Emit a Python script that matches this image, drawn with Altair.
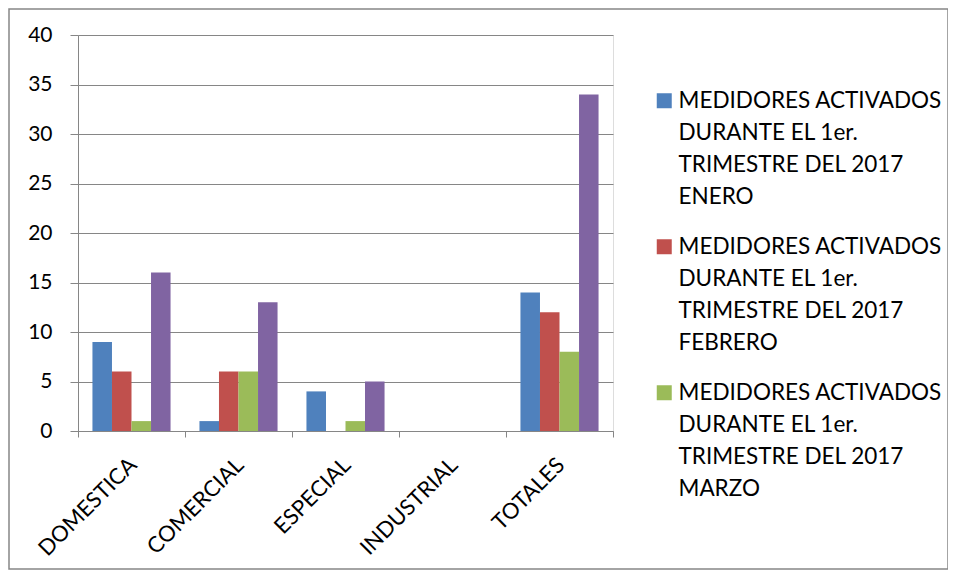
import altair as alt
import pandas as pd

categories = ["DOMESTICA", "COMERCIAL", "ESPECIAL", "INDUSTRIAL", "TOTALES"]
series = [
    "MEDIDORES ACTIVADOS\nDURANTE EL 1er.\nTRIMESTRE DEL 2017\nENERO",
    "MEDIDORES ACTIVADOS\nDURANTE EL 1er.\nTRIMESTRE DEL 2017\nFEBRERO",
    "MEDIDORES ACTIVADOS\nDURANTE EL 1er.\nTRIMESTRE DEL 2017\nMARZO",
    "TOTAL TRIMESTRE",
]
enero = [9, 1, 4, 0, 14]
febrero = [6, 6, 0, 0, 12]
marzo = [1, 6, 1, 0, 8]
total = [16, 13, 5, 0, 34]
colors = ["#4F81BD", "#C0504D", "#9BBB59", "#8064A2"]
y_ticks = [0, 5, 10, 15, 20, 25, 30, 35, 40]

rows = []
for s, vals in zip(series, [enero, febrero, marzo, total]):
    for c, v in zip(categories, vals):
        rows.append({"categoria": c, "serie": s, "valor": v})
df = pd.DataFrame(rows)

FONT = "Lato"
GRAY = "#868686"

bars = alt.Chart(df).mark_bar().encode(
    x=alt.X(
        "categoria:N",
        sort=categories,
        scale=alt.Scale(paddingInner=0, paddingOuter=0),
        axis=alt.Axis(
            title=None,
            labelAngle=-45,
            labelAlign="right",
            labelBaseline="top",
            labelFont=FONT,
            labelFontSize=22,
            labelColor="black",
            labelPadding=17,
            labelOffset=-6,
            tickBand="extent",
            tickSize=6,
            tickColor=GRAY,
            domainColor=GRAY,
            grid=False,
        ),
    ),
    xOffset=alt.XOffset(
        "serie:N", sort=series, scale=alt.Scale(paddingInner=0, paddingOuter=0.74)
    ),
    y=alt.Y(
        "valor:Q",
        scale=alt.Scale(domain=[0, 40], nice=False),
        axis=alt.Axis(
            title=None,
            values=y_ticks,
            labelFont=FONT,
            labelFontSize=21,
            labelColor="black",
            labelPadding=18,
            tickSize=8,
            tickColor=GRAY,
            domainColor=GRAY,
            gridColor=GRAY,
            grid=True,
        ),
    ),
    color=alt.Color(
        "serie:N",
        sort=series,
        scale=alt.Scale(domain=series, range=colors),
        legend=alt.Legend(
            values=series[:3],
            title=None,
            orient="none",
            legendX=575,
            legendY=62,
            labelExpr="split(datum.label, '\\n')",
            labelFont=FONT,
            labelFontSize=22.5,
            labelColor="black",
            labelLimit=0,
            labelBaseline="alphabetic",
            labelOffset=3,
            symbolType="M-1,-2H1V0H-1Z",
            symbolSize=225,
            symbolStrokeWidth=0,
            symbolOpacity=1,
            rowPadding=27,
            padding=0,
        ),
    ),
)

border = alt.Chart(pd.DataFrame({"a": [0]})).mark_rect(
    fillOpacity=0, stroke=GRAY, strokeWidth=1.5
).encode(
    x=alt.value(-69), x2=alt.value(870), y=alt.value(-26), y2=alt.value(534)
)

chart = (
    alt.layer(bars, border)
    .properties(
        width=535,
        height=396,
        autosize=alt.AutoSizeParams(type="none"),
        padding={"left": 70, "top": 27, "right": 335, "bottom": 140},
    )
    .configure_view(stroke=None)
    .configure(style={"guide-label": {"lineHeight": 32}})
)

chart.save("out.html", embed_options={"renderer": "svg", "actions": False})
